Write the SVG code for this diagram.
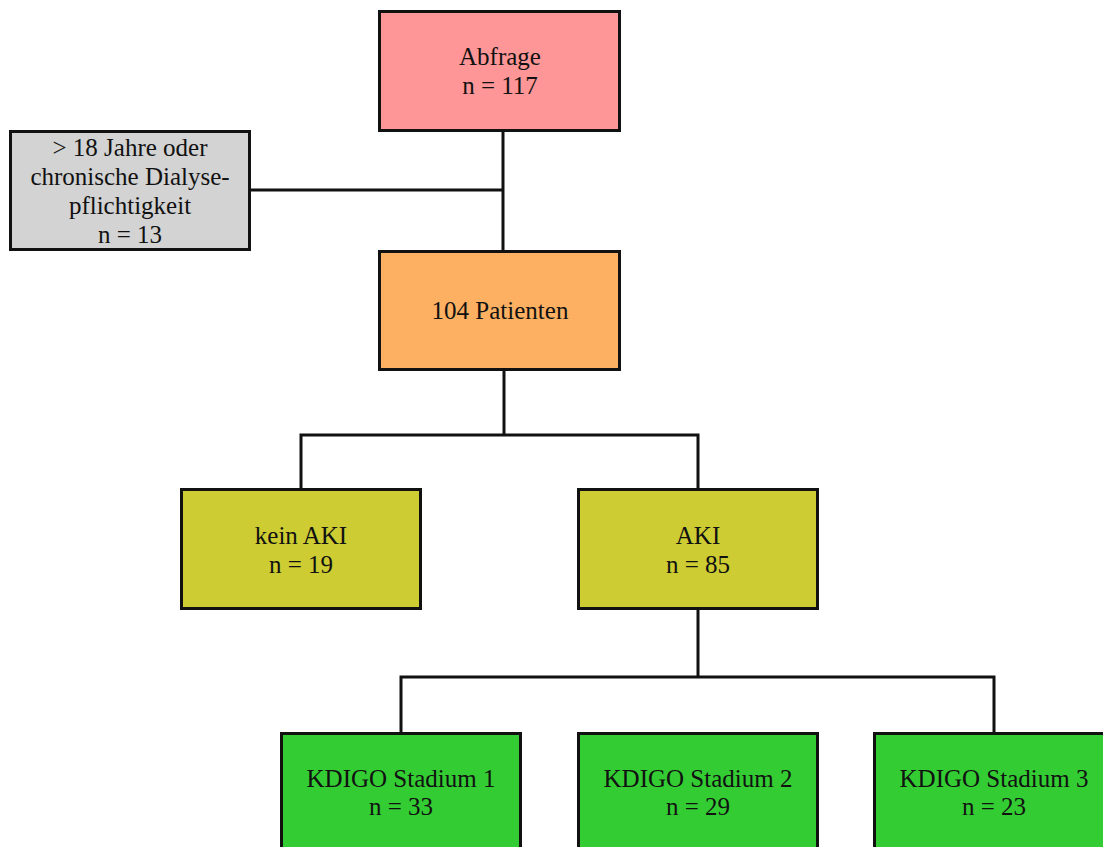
<svg xmlns="http://www.w3.org/2000/svg" width="1103" height="847" viewBox="0 0 1103 847">
<style>
  .box { stroke: #111; stroke-width: 3; }
  .t { font-family: "Liberation Serif", serif; font-size: 25px; fill: #111; text-anchor: middle; }
  .c { fill: none; stroke: #111; stroke-width: 3; }
</style>
<rect width="1103" height="847" fill="#ffffff"/>
<g id="connectors">
  <path class="c" d="M503,131 V250"/>
  <path class="c" d="M250,190 H503"/>
  <path class="c" d="M504,370 V435"/>
  <path class="c" d="M301,489 V435 H698 V489"/>
  <path class="c" d="M698,609 V677"/>
  <path class="c" d="M401,733 V677 H994 V733"/>
</g>
<g id="abfrage">
  <rect class="box" x="379.5" y="11.5" width="240" height="119" fill="#fe9697"/>
  <text class="t" x="500" y="65">Abfrage</text>
  <text class="t" x="500" y="94">n = 117</text>
</g>
<g id="ausschluss">
  <rect class="box" x="10.5" y="131.5" width="239" height="118" fill="#d3d3d3"/>
  <text class="t" x="130" y="156">&gt; 18 Jahre oder</text>
  <text class="t" x="130" y="185">chronische Dialyse-</text>
  <text class="t" x="130" y="214">pflichtigkeit</text>
  <text class="t" x="130" y="243">n = 13</text>
</g>
<g id="patienten">
  <rect class="box" x="379.5" y="251.5" width="240" height="118" fill="#fdb062"/>
  <text class="t" x="500" y="319">104 Patienten</text>
</g>
<g id="kein-aki">
  <rect class="box" x="181.5" y="489.5" width="239" height="119" fill="#cdcc33"/>
  <text class="t" x="301" y="544">kein AKI</text>
  <text class="t" x="301" y="573">n = 19</text>
</g>
<g id="aki">
  <rect class="box" x="578.5" y="489.5" width="239" height="119" fill="#cdcc33"/>
  <text class="t" x="698" y="544">AKI</text>
  <text class="t" x="698" y="573">n = 85</text>
</g>
<g id="kdigo1">
  <rect class="box" x="281.5" y="733.5" width="239" height="130" fill="#33cc33"/>
  <text class="t" x="401" y="787">KDIGO Stadium 1</text>
  <text class="t" x="401" y="815">n = 33</text>
</g>
<g id="kdigo2">
  <rect class="box" x="578.5" y="733.5" width="239" height="130" fill="#33cc33"/>
  <text class="t" x="698" y="787">KDIGO Stadium 2</text>
  <text class="t" x="698" y="815">n = 29</text>
</g>
<g id="kdigo3">
  <rect class="box" x="874.5" y="733.5" width="239" height="130" fill="#33cc33"/>
  <text class="t" x="994" y="787">KDIGO Stadium 3</text>
  <text class="t" x="994" y="815">n = 23</text>
</g>
</svg>
